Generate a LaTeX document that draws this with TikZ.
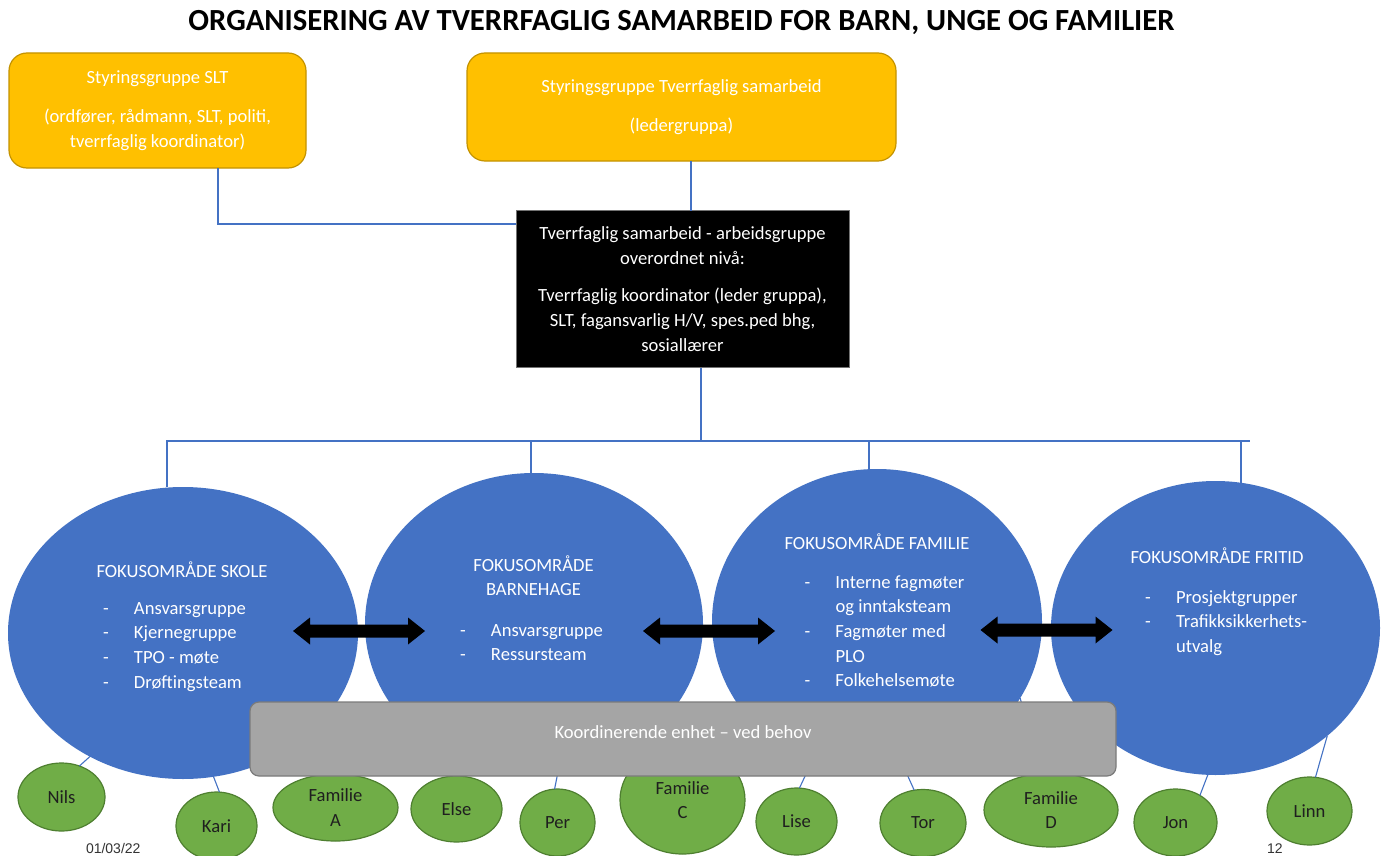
\documentclass[tikz,border=0pt]{standalone}
\usepackage{fontspec}
\setmainfont{Carlito}
\newfontfamily\arialf{Liberation Sans}
\usetikzlibrary{shapes.geometric}
\definecolor{yel}{HTML}{FFC000}
\definecolor{yelD}{HTML}{C49300}
\definecolor{blu}{HTML}{4472C4}
\definecolor{gry}{HTML}{A5A5A5}
\definecolor{gryD}{HTML}{7B7B7B}
\definecolor{grn}{HTML}{70AD47}
\definecolor{grnD}{HTML}{4E7F30}
\newcommand\bodyfont{\fontsize{18.6}{24.7}\selectfont}
\newcommand\itm[1]{\makebox[31pt][l]{-}#1}
\begin{document}
\begin{tikzpicture}[x=1pt,y=-1pt,
  every node/.style={inner sep=0pt, outer sep=0pt},
  ybox/.style={draw=yelD, line width=1.2pt, fill=yel, rounded corners=18pt, text=white, align=center, font=\bodyfont},
  bbox/.style={draw=black!55, line width=0.8pt, fill=black, text=white, align=center, font=\bodyfont},
  focus/.style={ellipse, fill=blu},
  wtext/.style={text=white, font=\bodyfont, anchor=base},
  ltext/.style={text=white, font=\bodyfont, anchor=base west},
  gbox/.style={draw=gryD, line width=1.2pt, fill=gry, rounded corners=9pt, text=white, font=\bodyfont},
  pers/.style={ellipse, draw=grnD, line width=1.2pt, fill=grn, text=black!88, align=center, font=\bodyfont},
  conn/.style={draw=blu, line width=1.1pt},
  darr/.pic={\fill[black] (-66,0) -- (-49,-13.5) -- (-49,-6.5) -- (49,-6.5) -- (49,-13.5) -- (66,0) -- (49,13.5) -- (49,6.5) -- (-49,6.5) -- (-49,13.5) -- cycle;},
  foot/.style={font=\arialf\fontsize{14}{16}\selectfont, text=black!80, anchor=base west}
]
\useasboundingbox (0,0) rectangle (1392,856);
\fill[white] (0,0) rectangle (1392,856);

% title
\node[font=\fontsize{30.7}{36}\selectfont\bfseries, anchor=base] (title) at (681.5,31) {ORGANISERING AV TVERRFAGLIG SAMARBEID FOR BARN, UNGE OG FAMILIER};

% top boxes
\node[ybox, minimum width=297pt, minimum height=115pt] (slt) at (157.5,110.5) {Styringsgruppe SLT\\[15pt](ordfører, rådmann, SLT, politi,\\tverrfaglig koordinator)};
\node[ybox, minimum width=429pt, minimum height=108pt] (tsg) at (681.5,107) {Styringsgruppe Tverrfaglig samarbeid\\[15pt](ledergruppa)};
\node[bbox, minimum width=333pt, minimum height=157pt] (wk) at (682.5,289) {Tverrfaglig samarbeid - arbeidsgruppe\\overordnet nivå:\\[13pt]Tverrfaglig koordinator (leder gruppa),\\SLT, fagansvarlig H/V, spes.ped bhg,\\sosiallærer};

\coordinate (j1) at (218,224);
\coordinate (j2) at (691,185);
\coordinate (j3) at (701,441);
\draw[conn] (slt.south -| j1) -- (j1) -- (wk.west |- j1);
\draw[conn] (tsg.south -| j2) -- (wk.north -| j2);
\draw[conn] (wk.south -| j3) -- (j3);

% focus ellipses
\node[focus, minimum width=350pt, minimum height=292pt] (sk) at (183,633) {};
\node[focus, minimum width=338pt, minimum height=302pt] (bh) at (534,624) {};
\node[focus, minimum width=330pt, minimum height=306pt] (fa) at (877,622) {};
\node[focus, minimum width=329pt, minimum height=294pt] (fr) at (1215.5,628) {};

% bus
\coordinate (busL) at (166,441);
\coordinate (busR) at (1250,441);
\coordinate (d1) at (167,441);
\coordinate (d2) at (531,441);
\coordinate (d3) at (869,441);
\coordinate (d4) at (1241,441);
\draw[conn] (busL) -- (busR);
\draw[conn] (d1) -- (d1 |- sk.north);
\draw[conn] (d2) -- (d2 |- bh.north);
\draw[conn] (d3) -- (d3 |- fa.north);
\draw[conn] (d4) -- ([yshift=-1.5pt]d4 |- fr.north);

% focus texts
\node[wtext] (skh) at (182,577) {FOKUSOMRÅDE SKOLE};
\node[ltext] (skl) at (103,614) {\begin{tabular}[t]{@{}l@{}}\itm{Ansvarsgruppe}\\\itm{Kjernegruppe}\\\itm{TPO - møte}\\\itm{Drøftingsteam}\end{tabular}};

\node[wtext] (bhh) at (533.5,571) {\begin{tabular}[t]{@{}c@{}}FOKUSOMRÅDE\\BARNEHAGE\end{tabular}};
\node[ltext] (bhl) at (460,636) {\begin{tabular}[t]{@{}l@{}}\itm{Ansvarsgruppe}\\\itm{Ressursteam}\end{tabular}};

\node[wtext] (fah) at (877,549) {FOKUSOMRÅDE FAMILIE};
\node[ltext] (fal) at (804.5,588) {\begin{tabular}[t]{@{}l@{}}\itm{Interne fagmøter}\\\hspace*{31pt}og inntaksteam\\\itm{Fagmøter med}\\\hspace*{31pt}PLO\\\itm{Folkehelsemøte}\end{tabular}};

\node[wtext] (frh) at (1217,563) {FOKUSOMRÅDE FRITID};
\node[ltext] (frl) at (1145,603) {\begin{tabular}[t]{@{}l@{}}\itm{Prosjektgrupper}\\\itm{Trafikksikkerhets-}\\\hspace*{31pt}utvalg\end{tabular}};

% double arrows
\pic at (359,631) {darr};
\pic at (709,631) {darr};
\pic at (1046.5,630) {darr};

% persons
\node[pers, minimum width=87pt, minimum height=68pt] (nils) at (61.5,797) {Nils};
\node[pers, minimum width=81pt, minimum height=68pt] (kari) at (216.5,826) {Kari};
\node[pers, minimum width=125pt, minimum height=67pt] (fama) at (335.5,807.5) {Familie\\A};
\node[pers, minimum width=91pt, minimum height=66pt] (else) at (456.5,809) {Else};
\node[pers, minimum width=75pt, minimum height=67pt] (per) at (557.5,822.5) {Per};
\node[pers, minimum width=125pt, minimum height=108pt] (famc) at (682.5,800) {Familie\\C};
\node[pers, minimum width=81pt, minimum height=67pt] (lise) at (796.5,821.5) {Lise};
\node[pers, minimum width=86pt, minimum height=67pt] (tor) at (923,823) {Tor};
\node[pers, minimum width=134pt, minimum height=74pt] (famd) at (1051,810) {Familie\\D};
\node[pers, minimum width=83pt, minimum height=67pt] (jon) at (1175.5,822.5) {Jon};
\node[pers, minimum width=85pt, minimum height=68pt] (linn) at (1309.5,811) {Linn};

\draw[conn] (nils.60) -- (sk.233);
\draw[conn] (kari.85) -- (sk.-78);
\draw[conn] (per.95) -- (bh.-81);
\draw[conn] (lise.85) -- (fa.-115);
\draw[conn] (tor.105) -- (fa.-79);
\draw[conn] (famd.105) -- (fa.-28);
\draw[conn] (jon.48) -- (fr.-93);
\draw[conn] (linn.80) -- (fr.-44);

% coordinating unit
\node[gbox, minimum width=866pt, minimum height=74pt, text height=13pt, text depth=15pt] (ke) at (683,739) {Koordinerende enhet – ved behov};

% footer
\node[foot] (date) at (86,853) {01/03/22};
\node[foot] (page) at (1267,853) {12};
\end{tikzpicture}
\end{document}
